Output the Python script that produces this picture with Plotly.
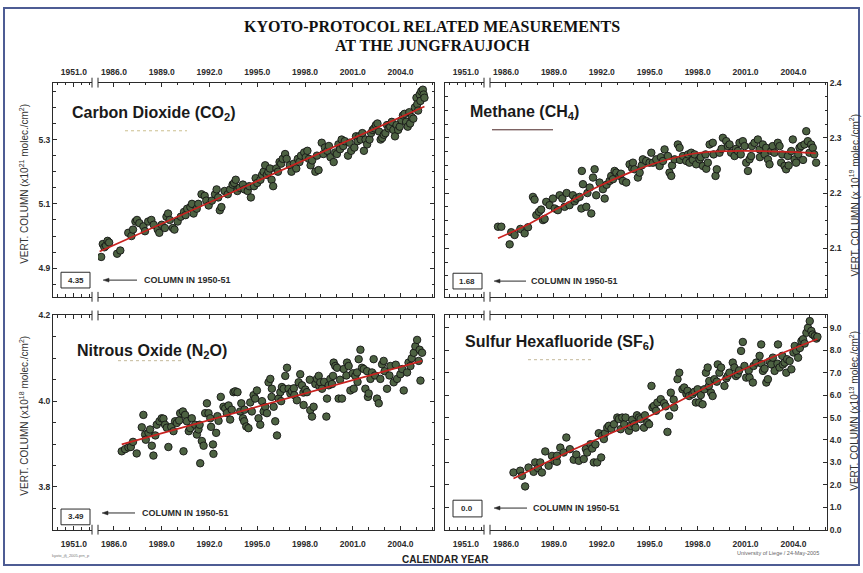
import plotly.graph_objects as go

W, H = 863, 573

# ---------------- data ----------------
co2_year = [1985.2, 1985.3, 1985.4, 1985.5, 1985.6, 1985.7, 1986.2, 1986.4, 1986.9, 1987.1, 1987.2, 1987.35,
            1987.45, 1987.6, 1987.85, 1987.95, 1988.15, 1988.35, 1988.5, 1988.75, 1988.85, 1989.0, 1989.2,
            1989.3, 1989.4, 1989.5, 1989.7, 1989.8, 1990.0, 1990.2, 1990.4, 1990.5, 1990.6, 1990.8, 1990.9,
            1991.0, 1991.2, 1991.3, 1991.5, 1991.7, 1991.8, 1991.95, 1992.15, 1992.35, 1992.45, 1992.55,
            1992.65, 1992.75, 1992.95, 1993.15, 1993.3, 1993.45, 1993.55, 1993.65, 1993.75, 1993.9, 1994.1,
            1994.2, 1994.4, 1994.5, 1994.6, 1994.8, 1994.9, 1995.0, 1995.2, 1995.3, 1995.4, 1995.5, 1995.6,
            1995.7, 1995.8, 1995.9, 1996.0, 1996.2, 1996.3, 1996.4, 1996.5, 1996.6, 1996.75, 1996.85, 1997.05,
            1997.15, 1997.3, 1997.45, 1997.55, 1997.65, 1997.75, 1997.95, 1998.05, 1998.15, 1998.25, 1998.35,
            1998.45, 1998.65, 1998.75, 1998.85, 1999.05, 1999.15, 1999.25, 1999.4, 1999.5, 1999.6, 1999.8,
            1999.9, 2000.0, 2000.1, 2000.2, 2000.3, 2000.4, 2000.5, 2000.7, 2000.8, 2000.9, 2001.1, 2001.2,
            2001.3, 2001.4, 2001.5, 2001.6, 2001.7, 2001.8, 2001.9, 2002.05, 2002.15, 2002.25, 2002.35,
            2002.45, 2002.55, 2002.65, 2002.75, 2002.85, 2002.95, 2003.05, 2003.15, 2003.25, 2003.35, 2003.45,
            2003.55, 2003.65, 2003.75, 2003.85, 2003.95, 2004.05, 2004.15, 2004.25, 2004.35, 2004.45, 2004.55,
            2004.6, 2004.7, 2004.8, 2004.9, 2005.0, 2005.05, 2005.1, 2005.2, 2005.25, 2005.3, 2005.4, 2005.45,
            2005.5]
co2_val = [4.935, 4.975, 4.965, 4.97, 4.985, 4.98, 4.945, 4.955, 5.01, 5.0, 5.02, 5.045,
           5.05, 5.04, 5.03, 5.015, 5.045, 5.05, 5.035, 5.02, 5.01, 5.035, 5.025,
           5.06, 5.07, 5.05, 5.025, 5.02, 5.045, 5.06, 5.075, 5.065, 5.085, 5.09, 5.1,
           5.07, 5.085, 5.1, 5.13, 5.125, 5.11, 5.095, 5.11, 5.13, 5.145, 5.12,
           5.08, 5.09, 5.14, 5.13, 5.145, 5.16, 5.165, 5.175, 5.14, 5.15, 5.16,
           5.145, 5.14, 5.155, 5.12, 5.155, 5.18, 5.165, 5.175, 5.19, 5.2, 5.22, 5.19,
           5.2, 5.21, 5.175, 5.155, 5.21, 5.2, 5.23, 5.225, 5.24, 5.255, 5.24, 5.22,
           5.2, 5.225, 5.21, 5.24, 5.23, 5.25, 5.26, 5.245, 5.265, 5.24, 5.22,
           5.235, 5.2, 5.25, 5.205, 5.29, 5.255, 5.275, 5.265, 5.28, 5.245, 5.23,
           5.26, 5.255, 5.285, 5.27, 5.3, 5.28, 5.295, 5.25, 5.29, 5.265, 5.275, 5.31,
           5.295, 5.31, 5.3, 5.32, 5.265, 5.3, 5.285, 5.3, 5.32, 5.33, 5.335,
           5.345, 5.35, 5.325, 5.3, 5.305, 5.315, 5.32, 5.345, 5.335, 5.34, 5.355,
           5.33, 5.31, 5.345, 5.33, 5.34, 5.36, 5.375, 5.38, 5.355, 5.34, 5.385,
           5.35, 5.37, 5.365, 5.4, 5.43, 5.41, 5.39, 5.44, 5.42, 5.45, 5.455, 5.44,
           5.43]
co2_fit_year = [1985.1, 2005.5]
co2_fit_val = [4.952, 5.403]

ch4_year = [1985.50, 1985.71, 1986.23, 1986.33, 1986.54, 1986.9, 1987.17, 1987.38, 1987.69, 1987.79, 1987.90,
            1988.07, 1988.2, 1988.32, 1988.42, 1988.52, 1988.73, 1988.94, 1989.05, 1989.25, 1989.36, 1989.53,
            1989.67, 1989.8, 1989.98, 1990.19, 1990.3, 1990.40, 1990.61, 1990.72, 1990.75, 1990.82, 1991.03,
            1991.1, 1991.24, 1991.34, 1991.45, 1991.55, 1991.65, 1991.86, 1992.07, 1992.18, 1992.3, 1992.49,
            1992.59, 1992.7, 1992.80, 1992.91, 1993.11, 1993.2, 1993.32, 1993.53, 1993.74, 1993.9, 1993.95,
            1994.05, 1994.26, 1994.37, 1994.5, 1994.57, 1994.78, 1994.99, 1995.10, 1995.2, 1995.41, 1995.62,
            1995.7, 1995.83, 1995.93, 1996.14, 1996.24, 1996.35, 1996.4, 1996.56, 1996.76, 1996.87, 1996.9,
            1997.08, 1997.29, 1997.4, 1997.49, 1997.60, 1997.7, 1997.81, 1997.91, 1998.12, 1998.2, 1998.33,
            1998.5, 1998.54, 1998.64, 1998.75, 1998.95, 1999.0, 1999.12, 1999.20, 1999.37, 1999.5, 1999.58,
            1999.79, 1999.9, 2000.00, 2000.10, 2000.31, 2000.4, 2000.52, 2000.62, 2000.7, 2000.83, 2000.94,
            2001.04, 2001.15, 2001.25, 2001.35, 2001.4, 2001.56, 2001.77, 2001.88, 2001.9, 2002.08, 2002.2,
            2002.29, 2002.40, 2002.50, 2002.61, 2002.7, 2002.81, 2003.02, 2003.13, 2003.23, 2003.3, 2003.44,
            2003.54, 2003.65, 2003.7, 2003.86, 2003.96, 2004.07, 2004.17, 2004.3, 2004.38, 2004.48, 2004.6,
            2004.69, 2004.80, 2004.90, 2005.00, 2005.11, 2005.21, 2005.3, 2005.42]
ch4_val = [2.139, 2.139, 2.107, 2.129, 2.124, 2.135, 2.127, 2.138, 2.193, 2.188, 2.160,
           2.166, 2.170, 2.151, 2.153, 2.184, 2.178, 2.190, 2.172, 2.169, 2.196, 2.190,
           2.175, 2.200, 2.178, 2.196, 2.185, 2.190, 2.193, 2.172, 2.240, 2.216, 2.175,
           2.200, 2.210, 2.163, 2.228, 2.243, 2.196, 2.219, 2.207, 2.190, 2.215, 2.222,
           2.231, 2.225, 2.240, 2.237, 2.231, 2.235, 2.222, 2.219, 2.252, 2.245, 2.255,
           2.243, 2.228, 2.237, 2.250, 2.261, 2.258, 2.255, 2.273, 2.255, 2.261, 2.249,
           2.265, 2.258, 2.279, 2.267, 2.237, 2.231, 2.250, 2.261, 2.288, 2.282, 2.260,
           2.267, 2.258, 2.270, 2.255, 2.273, 2.260, 2.270, 2.252, 2.261, 2.265, 2.249,
           2.270, 2.244, 2.255, 2.288, 2.291, 2.270, 2.231, 2.243, 2.273, 2.280, 2.300,
           2.294, 2.285, 2.288, 2.273, 2.267, 2.280, 2.276, 2.291, 2.270, 2.294, 2.285,
           2.255, 2.240, 2.261, 2.267, 2.285, 2.291, 2.297, 2.279, 2.265, 2.288, 2.270,
           2.282, 2.261, 2.252, 2.276, 2.285, 2.273, 2.291, 2.285, 2.255, 2.270, 2.249,
           2.243, 2.267, 2.250, 2.276, 2.297, 2.261, 2.255, 2.270, 2.282, 2.285, 2.260,
           2.288, 2.312, 2.294, 2.273, 2.288, 2.282, 2.270, 2.255]
ch4_fit_year = [1985.5, 1987.5, 1989.6, 1991.65, 1993.74, 1995.8, 1997.9, 2000.0, 2002.1, 2004.2, 2005.4]
ch4_fit_val = [2.118, 2.145, 2.178, 2.210, 2.237, 2.258, 2.272, 2.276, 2.276, 2.274, 2.272]

n2o_year = [1986.49, 1986.70, 1986.91, 1987.06, 1987.2, 1987.43, 1987.75, 1987.85, 1987.96, 1988.0, 1988.17,
            1988.27, 1988.38, 1988.48, 1988.6, 1988.69, 1988.86, 1989.00, 1989.11, 1989.21, 1989.32, 1989.42,
            1989.6, 1989.74, 1989.84, 1989.95, 1990.1, 1990.16, 1990.33, 1990.37, 1990.47, 1990.58, 1990.7,
            1990.79, 1990.89, 1991.1, 1991.21, 1991.31, 1991.38, 1991.42, 1991.52, 1991.63, 1991.73, 1991.84,
            1991.94, 1992.05, 1992.1, 1992.22, 1992.25, 1992.42, 1992.5, 1992.57, 1992.71, 1992.88, 1992.99,
            1993.09, 1993.2, 1993.30, 1993.4, 1993.51, 1993.62, 1993.76, 1993.93, 1994.0, 1994.10, 1994.18,
            1994.2, 1994.31, 1994.45, 1994.56, 1994.66, 1994.77, 1994.87, 1994.98, 1995.08, 1995.19, 1995.3,
            1995.40, 1995.50, 1995.61, 1995.71, 1995.82, 1995.9, 1995.92, 1996.03, 1996.13, 1996.24, 1996.34,
            1996.45, 1996.5, 1996.55, 1996.66, 1996.76, 1996.87, 1996.97, 1997.08, 1997.18, 1997.3, 1997.33,
            1997.49, 1997.60, 1997.70, 1997.81, 1997.9, 1997.91, 1998.02, 1998.12, 1998.3, 1998.33, 1998.44,
            1998.54, 1998.65, 1998.75, 1998.86, 1998.9, 1998.96, 1999.07, 1999.2, 1999.34, 1999.38, 1999.49,
            1999.59, 1999.7, 1999.76, 1999.80, 1999.90, 2000.01, 2000.11, 2000.2, 2000.32, 2000.43, 2000.6,
            2000.64, 2000.74, 2000.85, 2001.0, 2001.06, 2001.16, 2001.27, 2001.3, 2001.37, 2001.48, 2001.58,
            2001.69, 2001.79, 2001.9, 2001.95, 2002.00, 2002.11, 2002.21, 2002.31, 2002.4, 2002.52, 2002.63,
            2002.73, 2002.84, 2002.94, 2003.0, 2003.15, 2003.3, 2003.36, 2003.57, 2003.7, 2003.78, 2003.99,
            2004.1, 2004.20, 2004.41, 2004.5, 2004.62, 2004.7, 2004.83, 2004.93, 2005.04, 2005.14, 2005.2,
            2005.25, 2005.35]
n2o_val = [3.883, 3.888, 3.892, 3.893, 3.905, 3.878, 3.939, 3.968, 3.922, 3.910, 3.926,
           3.934, 3.896, 3.873, 3.920, 3.945, 3.953, 3.960, 3.959, 3.945, 3.938, 3.893,
           3.940, 3.930, 3.953, 3.949, 3.955, 3.972, 3.976, 3.883, 3.968, 3.953, 3.930,
           3.937, 3.960, 3.945, 3.922, 3.934, 3.945, 3.855, 3.907, 3.896, 3.972, 3.995,
           3.972, 3.960, 3.940, 3.899, 3.877, 3.926, 3.965, 3.954, 4.010, 3.987, 3.983,
           3.972, 3.990, 3.957, 3.980, 4.021, 4.023, 4.021, 3.976, 3.995, 3.960, 3.953,
           3.980, 3.941, 3.937, 3.997, 3.976, 4.014, 4.006, 4.025, 3.960, 3.945, 4.000,
           3.976, 3.987, 3.972, 4.044, 4.052, 4.010, 4.029, 3.987, 3.953, 3.920, 4.006,
           4.021, 4.000, 4.033, 4.029, 4.059, 4.078, 4.029, 4.018, 4.023, 4.030, 4.014,
           4.002, 4.044, 4.063, 4.037, 4.020, 3.991, 4.027, 4.021, 4.050, 3.979, 3.964,
           3.987, 4.040, 4.052, 4.059, 4.035, 4.044, 4.029, 4.045, 3.964, 4.006, 4.037,
           4.052, 4.040, 4.059, 4.090, 4.082, 4.078, 4.006, 4.050, 4.006, 4.075, 4.060,
           4.090, 4.082, 4.025, 4.065, 4.029, 4.059, 4.067, 4.045, 4.098, 4.120, 4.078,
           4.075, 4.029, 4.070, 4.010, 4.018, 4.052, 4.067, 4.098, 4.060, 4.006, 3.995,
           4.052, 4.086, 4.094, 4.070, 4.029, 4.060, 4.082, 4.044, 4.085, 4.052, 4.063,
           4.075, 4.025, 4.067, 4.090, 4.082, 4.100, 4.113, 4.128, 4.143, 4.094, 4.120,
           4.048, 4.113]
n2o_fit_year = [1986.49, 2005.35]
n2o_fit_val = [3.899, 4.094]

sf6_year = [1986.47, 1986.89, 1987.0, 1987.20, 1987.41, 1987.73, 1987.83, 1988.0, 1988.15, 1988.25, 1988.46,
            1988.67, 1988.88, 1989.03, 1989.19, 1989.2, 1989.40, 1989.61, 1989.78, 1990.00, 1990.24, 1990.4,
            1990.56, 1990.87, 1991.0, 1991.08, 1991.29, 1991.40, 1991.50, 1991.6, 1991.71, 1991.81, 1991.96,
            1992.02, 1992.13, 1992.2, 1992.34, 1992.44, 1992.6, 1992.76, 1992.97, 1993.07, 1993.18, 1993.28,
            1993.4, 1993.49, 1993.70, 1993.81, 1993.9, 1994.02, 1994.12, 1994.2, 1994.33, 1994.43, 1994.64,
            1994.7, 1994.85, 1994.96, 1995.11, 1995.17, 1995.27, 1995.4, 1995.48, 1995.69, 1995.90, 1996.0,
            1996.11, 1996.22, 1996.32, 1996.5, 1996.53, 1996.74, 1996.85, 1997.05, 1997.16, 1997.3, 1997.37,
            1997.47, 1997.68, 1997.8, 1997.89, 1998.00, 1998.10, 1998.2, 1998.31, 1998.42, 1998.52, 1998.63,
            1998.7, 1998.73, 1998.84, 1998.94, 1999.05, 1999.2, 1999.26, 1999.36, 1999.47, 1999.68, 1999.8,
            1999.88, 1999.99, 2000.20, 2000.30, 2000.4, 2000.51, 2000.6, 2000.72, 2000.83, 2000.93, 2001.04,
            2001.2, 2001.25, 2001.46, 2001.5, 2001.67, 2001.88, 2001.98, 2002.0, 2002.09, 2002.19, 2002.30,
            2002.40, 2002.5, 2002.61, 2002.71, 2002.82, 2003.0, 2003.03, 2003.13, 2003.3, 2003.34, 2003.45,
            2003.55, 2003.6, 2003.76, 2003.87, 2004.0, 2004.08, 2004.18, 2004.29, 2004.4, 2004.50, 2004.60,
            2004.7, 2004.81, 2004.91, 2005.02, 2005.12, 2005.2, 2005.33, 2005.44, 2005.5]
sf6_val = [2.55, 2.63, 2.40, 1.93, 2.77, 2.58, 3.00, 2.75, 3.00, 2.55, 3.49,
           2.85, 3.29, 3.07, 3.03, 3.30, 3.66, 3.44, 4.11, 3.59, 3.12, 3.35,
           3.07, 3.15, 3.60, 3.44, 3.81, 3.62, 3.00, 3.80, 3.00, 4.30, 3.22,
           4.18, 4.04, 4.30, 4.55, 4.63, 4.50, 4.70, 5.00, 4.93, 4.48, 5.00,
           4.70, 5.00, 4.41, 4.63, 4.90, 4.70, 4.55, 5.10, 5.00, 4.93, 4.55,
           5.10, 4.78, 4.70, 6.41, 5.45, 5.52, 5.30, 5.67, 5.82, 5.64, 5.50,
           4.36, 5.07, 6.11, 5.80, 5.45, 6.71, 7.00, 6.26, 6.34, 6.05, 6.19,
           5.96, 6.04, 6.15, 5.67, 6.26, 5.67, 6.00, 5.59, 6.26, 7.00, 7.23,
           6.40, 6.63, 6.11, 5.96, 6.71, 6.60, 7.37, 7.00, 7.23, 6.41, 6.75,
           6.85, 7.00, 7.45, 7.23, 6.85, 6.93, 7.10, 7.97, 8.37, 7.30, 6.78,
           7.10, 6.78, 6.56, 7.30, 7.45, 7.75, 8.26, 7.40, 7.08, 7.18, 6.56,
           6.71, 7.50, 7.37, 7.67, 7.08, 7.40, 8.26, 7.23, 7.75, 7.37, 7.45,
           7.00, 7.60, 7.52, 7.15, 7.90, 8.19, 7.97, 7.67, 8.10, 8.41, 8.49,
           8.30, 8.78, 9.00, 9.30, 8.86, 8.70, 8.63, 8.52, 8.60]
sf6_fit_year = [1986.47, 1990.0, 1995.1, 2000.1, 2005.5]
sf6_fit_val = [2.28, 3.50, 5.10, 6.90, 8.50]

titles = ["Carbon Dioxide (CO<sub>2</sub>)", "Methane (CH<sub>4</sub>)",
          "Nitrous Oxide (N<sub>2</sub>O)", "Sulfur Hexafluoride (SF<sub>6</sub>)"]
column_1950 = ["4.35", "1.68", "3.49", "0.0"]
axis_titles = ["VERT. COLUMN (x10<sup>21</sup> molec./cm<sup>2</sup>)",
               "VERT. COLUMN (x 10<sup>19</sup> molec./cm<sup>2</sup>)",
               "VERT. COLUMN (x10<sup>18</sup> molec./cm<sup>2</sup>)",
               "VERT. COLUMN (x10<sup>13</sup> molec./cm<sup>2</sup>)"]
main_title_1 = "KYOTO-PROTOCOL RELATED MEASUREMENTS"
main_title_2 = "AT THE JUNGFRAUJOCH"
x_title = "CALENDAR YEAR"
credit = "University of Liege / 24-May-2005"
file_tag = "kyoto_jfj_2005.prn_p"
break_label = "1951.0"
arrow_text = "COLUMN IN 1950-51"

series = [(co2_year, co2_val, co2_fit_year, co2_fit_val),
          (ch4_year, ch4_val, ch4_fit_year, ch4_fit_val),
          (n2o_year, n2o_val, n2o_fit_year, n2o_fit_val),
          (sf6_year, sf6_val, sf6_fit_year, sf6_fit_val)]

# ---------------- layout (pixels) ----------------
def fx(p):
    return p / W

def fy(p):
    return 1 - p / H

panels = [
    dict(x0=53, xb1=92, xb2=98, x1=434, yt=79, yb=297, yr=[4.811, 5.477], tick0=4.9, dtick=0.2, minor=0.05,
         top=True, left=True, title_xy=(70, 110), seg=(125, 187, 128), seg_style=("#cbbf8e", "dot"),
         box=(61, 90, 272, 288), arrow=(103, 137, 280), atext=142, ytitle=(24, 182)),
    dict(x0=445, xb1=484, xb2=490, x1=827, yt=79, yb=297, yr=[2.012, 2.400], tick0=2.1, dtick=0.1, minor=0.025,
         top=True, left=False, title_xy=(468, 109), seg=(492, 553, 127), seg_style=("#4a2626", "solid"),
         box=(453, 482, 273, 289), arrow=(494, 526, 281), atext=529, ytitle=(854, 194)),
    dict(x0=53, xb1=92, xb2=98, x1=434, yt=316, yb=534, yr=[3.7, 4.2], tick0=3.8, dtick=0.2, minor=0.05,
         top=False, left=True, title_xy=(75, 353), seg=(118, 182, 362), seg_style=("#c4b99a", "dot"),
         box=(61, 90, 513, 529), arrow=(102, 135, 517), atext=140, ytitle=(24, 418)),
    dict(x0=445, xb1=484, xb2=490, x1=827, yt=316, yb=534, yr=[0.0, 9.55], tick0=0.0, dtick=1.0, minor=None,
         top=False, left=False, title_xy=(463, 343), seg=(528, 592, 361), seg_style=("#c4b99a", "dot"),
         box=(453, 482, 504, 521), arrow=(494, 527, 512), atext=531, ytitle=(854, 413)),
]

AX = "#2b2b2b"
tickfont = dict(family="Liberation Sans", size=8.5, color="#2b2b2b", weight="bold")

fig = go.Figure()
layout = dict(width=W, height=H, margin=dict(l=0, r=0, t=0, b=0), paper_bgcolor="white",
              plot_bgcolor="white", showlegend=False)
shapes = []
annotations = []

for i, p in enumerate(panels):
    nL, nM = 2 * i + 1, 2 * i + 2
    xL = "xaxis" if nL == 1 else f"xaxis{nL}"
    yL = "yaxis" if nL == 1 else f"yaxis{nL}"
    xM = f"xaxis{nM}"
    yM = f"yaxis{nM}"
    xLref = "x" if nL == 1 else f"x{nL}"
    yLref = "y" if nL == 1 else f"y{nL}"
    xMref = f"x{nM}"
    yMref = f"y{nM}"
    side = "top" if p["top"] else "bottom"
    standoff = 3 if p["top"] else 6
    ydom = [fy(p["yb"]), fy(p["yt"])]

    # left (1951) segment: its own small subplot
    layout[xL] = dict(domain=[fx(p["x0"]), fx(p["xb1"])], range=[1949.7, 1952.13], anchor=yLref,
                      tickvals=[1951.0], ticktext=[break_label], ticks="inside", ticklen=4, tickcolor=AX,
                      showline=True, linecolor=AX, linewidth=1, mirror="ticks", side=side,
                      showgrid=False, zeroline=False, tickfont=tickfont, ticklabelstandoff=standoff,
                      minor=dict(tickvals=[1950.0, 1950.5, 1951.5, 1952.0], ticks="inside", ticklen=2.5,
                                 tickcolor=AX, showgrid=False))
    # main (1985-2006) segment
    layout[xM] = dict(domain=[fx(p["xb2"]), fx(p["x1"])], range=[1985.0, 2006.1], anchor=yMref,
                      tick0=1986, dtick=3, tickformat=".1f", ticks="inside", ticklen=4, tickcolor=AX,
                      showline=True, linecolor=AX, linewidth=1, mirror="ticks", side=side,
                      showgrid=False, zeroline=False, tickfont=tickfont, ticklabelstandoff=standoff,
                      minor=dict(tick0=1986, dtick=1, ticks="inside", ticklen=2.5, tickcolor=AX,
                                 showgrid=False))
    common_y = dict(domain=ydom, range=p["yr"], tick0=p["tick0"], dtick=p["dtick"], tickformat=".1f",
                    ticks="inside", ticklen=4, tickcolor=AX, showline=True, linecolor=AX, linewidth=1,
                    showgrid=False, zeroline=False, tickfont=tickfont)
    if p["minor"]:
        common_y["minor"] = dict(tick0=p["tick0"], dtick=p["minor"], ticks="inside", ticklen=2.5,
                                 tickcolor=AX, showgrid=False)
    layout[yL] = dict(common_y, anchor=xLref, side="left", showticklabels=p["left"])
    layout[yM] = dict(common_y, anchor=xMref, side="right", showticklabels=not p["left"])

    yrs, vals, fyrs, fvals = series[i]
    fig.add_trace(go.Scatter(x=yrs, y=vals, mode="markers", xaxis=xMref, yaxis=yMref,
                             marker=dict(size=7.5, color="#4d6242", line=dict(color="#151515", width=0.9)),
                             hoverinfo="skip"))
    fig.add_trace(go.Scatter(x=fyrs, y=fvals, mode="lines", xaxis=xMref, yaxis=yMref,
                             line=dict(color="#c8221f", width=1.7, shape="spline"), hoverinfo="skip"))
    # invisible anchor trace so the 1951 segment subplot is registered
    fig.add_trace(go.Scatter(x=[1951.0], y=[p["yr"][0]], mode="markers", xaxis=xLref, yaxis=yLref,
                             marker=dict(size=1, opacity=0), hoverinfo="skip"))

    # axis break marks
    for yy in (p["yt"], p["yb"]):
        for xx in (p["xb1"], p["xb2"]):
            shapes.append(dict(type="line", xref="paper", yref="paper", x0=fx(xx), x1=fx(xx),
                               y0=fy(yy - 5), y1=fy(yy + 5), line=dict(color=AX, width=1)))

    # panel title and legend stroke
    tx, ty = p["title_xy"]
    annotations.append(dict(text=titles[i], xref="paper", yref="paper", x=fx(tx), y=fy(ty),
                            xanchor="left", yanchor="middle", showarrow=False,
                            font=dict(family="Liberation Sans", size=16, color="#1a1a1a", weight="bold")))
    sx0, sx1, sy = p["seg"]
    col, dash = p["seg_style"]
    shapes.append(dict(type="line", xref="paper", yref="paper", x0=fx(sx0), x1=fx(sx1), y0=fy(sy), y1=fy(sy),
                       line=dict(color=col, width=1, dash=dash)))

    # 1950-51 column box
    bx0, bx1, by0, by1 = p["box"]
    shapes.append(dict(type="rect", xref="paper", yref="paper", x0=fx(bx0), x1=fx(bx1), y0=fy(by1), y1=fy(by0),
                       line=dict(color=AX, width=1), fillcolor="white"))
    annotations.append(dict(text=column_1950[i], xref="paper", yref="paper", x=fx((bx0 + bx1) / 2),
                            y=fy((by0 + by1) / 2), xanchor="center", yanchor="middle", showarrow=False,
                            font=dict(family="Liberation Sans", size=8, color="#2b2b2b", weight="bold")))
    # arrow pointing to the box
    ax0, ax1, ay = p["arrow"]
    shapes.append(dict(type="line", xref="paper", yref="paper", x0=fx(ax0 + 4), x1=fx(ax1), y0=fy(ay), y1=fy(ay),
                       line=dict(color=AX, width=1)))
    shapes.append(dict(type="path", xref="paper", yref="paper",
                       path=f"M {fx(ax0)},{fy(ay)} L {fx(ax0 + 6)},{fy(ay - 2)} L {fx(ax0 + 6)},{fy(ay + 2)} Z",
                       fillcolor=AX, line=dict(color=AX, width=0.5)))
    annotations.append(dict(text=arrow_text, xref="paper", yref="paper", x=fx(p["atext"]), y=fy(ay),
                            xanchor="left", yanchor="middle", showarrow=False,
                            font=dict(family="Liberation Sans", size=9, color="#2b2b2b", weight="bold")))

    # vertical axis title
    vx, vy = p["ytitle"]
    annotations.append(dict(text=axis_titles[i], xref="paper", yref="paper", x=fx(vx), y=fy(vy),
                            xanchor="center", yanchor="middle", textangle=-90, showarrow=False,
                            font=dict(family="Liberation Sans", size=10, color="#333333")))

# headline and footer texts
annotations.append(dict(text=main_title_1, xref="paper", yref="paper", x=fx(432), y=fy(22), xanchor="center",
                        yanchor="middle", showarrow=False,
                        font=dict(family="Liberation Serif", size=16, color="#111111", weight="bold")))
annotations.append(dict(text=main_title_2, xref="paper", yref="paper", x=fx(432), y=fy(41), xanchor="center",
                        yanchor="middle", showarrow=False,
                        font=dict(family="Liberation Serif", size=16, color="#111111", weight="bold")))
annotations.append(dict(text=x_title, xref="paper", yref="paper", x=fx(445), y=fy(564), xanchor="center",
                        yanchor="middle", showarrow=False,
                        font=dict(family="Liberation Sans", size=10, color="#222222", weight="bold")))
annotations.append(dict(text=credit, xref="paper", yref="paper", x=fx(778), y=fy(558), xanchor="center",
                        yanchor="middle", showarrow=False,
                        font=dict(family="Liberation Sans", size=5.5, color="#666666")))
annotations.append(dict(text=file_tag, xref="paper", yref="paper", x=fx(71), y=fy(560), xanchor="center",
                        yanchor="middle", showarrow=False,
                        font=dict(family="Liberation Sans", size=4, color="#777777")))

# outer frame
shapes.append(dict(type="rect", xref="paper", yref="paper", x0=fx(4), x1=fx(859), y0=fy(570), y1=fy(3),
                   line=dict(color="#4d5c94", width=2)))

layout["shapes"] = shapes
layout["annotations"] = annotations
fig.update_layout(**layout)
fig.write_html("out.html", config={"displayModeBar": False},
               post_script="document.body.style.margin='0';document.body.style.overflow='hidden';")
